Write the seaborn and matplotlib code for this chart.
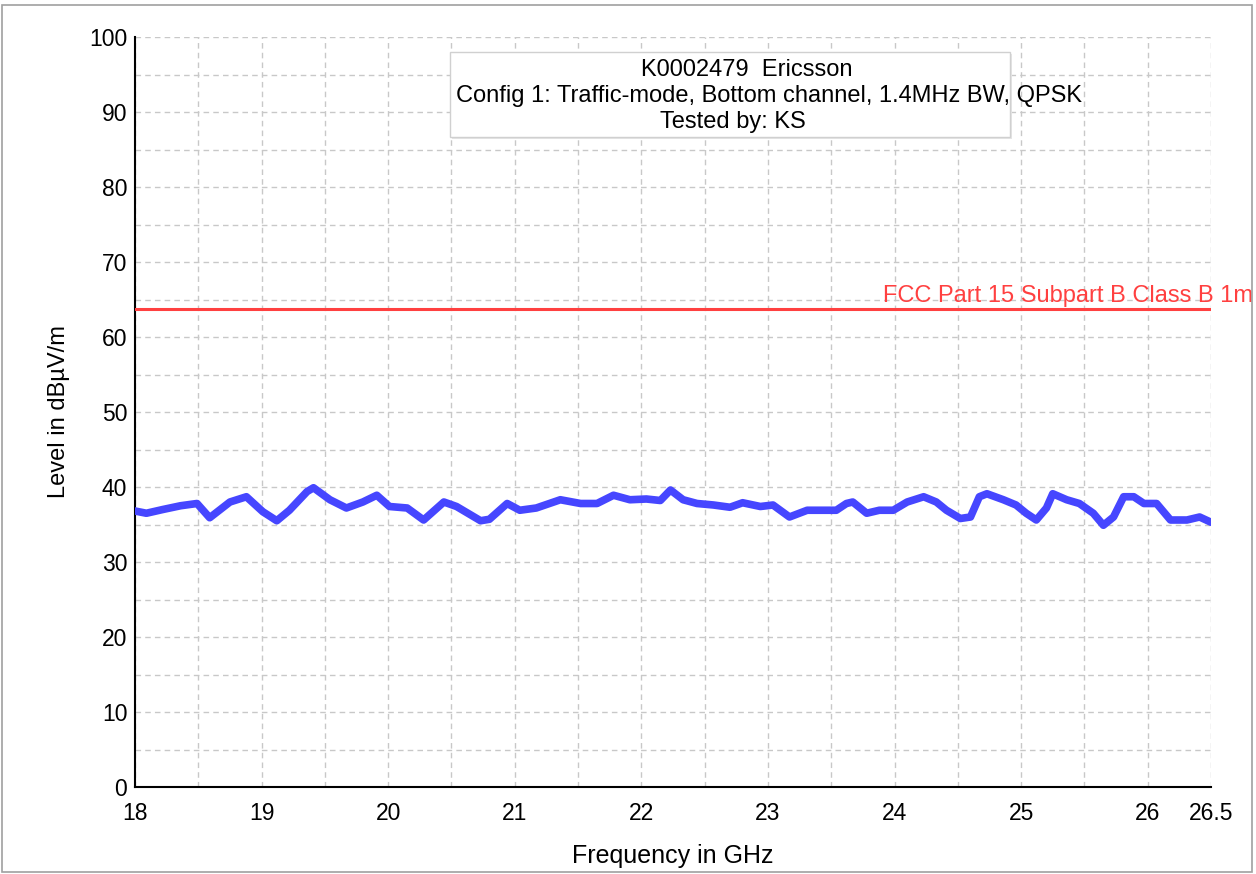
import numpy as np
import pandas as pd
import matplotlib
matplotlib.use("Agg")
import matplotlib.pyplot as plt
import seaborn as sns
from matplotlib.patches import Rectangle

# ---------------- data ----------------
freq_ghz = [18.00, 18.09, 18.22, 18.36, 18.49, 18.59, 18.75, 18.88, 19.01, 19.12,
            19.22, 19.36, 19.41, 19.54, 19.67, 19.80, 19.91, 20.01, 20.15, 20.28,
            20.44, 20.54, 20.73, 20.80, 20.94, 21.04, 21.17, 21.36, 21.52, 21.65,
            21.78, 21.91, 22.04, 22.15, 22.23, 22.33, 22.44, 22.57, 22.70, 22.80,
            22.94, 23.04, 23.17, 23.31, 23.44, 23.54, 23.62, 23.67, 23.78, 23.88,
            23.99, 24.10, 24.23, 24.33, 24.41, 24.52, 24.60, 24.67, 24.73, 24.86,
            24.96, 25.04, 25.12, 25.20, 25.25, 25.36, 25.46, 25.57, 25.65, 25.73,
            25.81, 25.89, 25.97, 26.07, 26.18, 26.31, 26.41, 26.50]
level_dbuv = [36.8, 36.5, 37.0, 37.5, 37.8, 35.9, 38.0, 38.7, 36.7, 35.5,
              36.9, 39.4, 39.9, 38.3, 37.2, 38.0, 38.9, 37.4, 37.2, 35.6,
              38.0, 37.4, 35.5, 35.7, 37.8, 36.9, 37.2, 38.3, 37.8, 37.8,
              38.9, 38.3, 38.4, 38.2, 39.6, 38.3, 37.8, 37.6, 37.3, 37.9,
              37.4, 37.6, 36.0, 36.9, 36.9, 36.9, 37.8, 38.0, 36.5, 36.9,
              36.9, 38.0, 38.7, 38.0, 36.9, 35.8, 36.0, 38.7, 39.1, 38.3,
              37.6, 36.5, 35.6, 37.2, 39.1, 38.3, 37.8, 36.5, 34.9, 36.0,
              38.7, 38.7, 37.8, 37.8, 35.6, 35.6, 36.0, 35.3]

limit_freq = [18.0, 26.5]
limit_level = [63.8, 63.8]
limit_name = "FCC Part 15 Subpart B Class B 1m"

x_major = [18, 18.5, 19, 19.5, 20, 20.5, 21, 21.5, 22, 22.5, 23, 23.5, 24, 24.5,
           25, 25.5, 26, 26.5]
x_labels = ["18", "", "19", "", "20", "", "21", "", "22", "", "23", "", "24", "",
            "25", "", "26", "26.5"]
y_ticks = [0, 5, 10, 15, 20, 25, 30, 35, 40, 45, 50, 55, 60, 65, 70, 75, 80, 85, 90, 95, 100]
y_labels = ["0", "", "10", "", "20", "", "30", "", "40", "", "50", "", "60", "",
            "70", "", "80", "", "90", "", "100"]

title_lines = ["K0002479  Ericsson",
               "Config 1: Traffic-mode, Bottom channel, 1.4MHz BW, QPSK",
               "Tested by: KS"]

# ---------------- style ----------------
sns.set_style("white")
plt.rcParams["font.family"] = ["Liberation Sans", "DejaVu Sans"]
plt.rcParams["text.color"] = "black"
plt.rcParams["axes.labelcolor"] = "black"

W, H = 1256, 874
fig = plt.figure(figsize=(W / 100, H / 100), dpi=100)
ax = fig.add_axes([135 / W, 1 - 787 / H, (1211 - 135) / W, (787 - 37) / H])

trace = pd.DataFrame({"f": freq_ghz, "lvl": level_dbuv})
limit = pd.DataFrame({"f": limit_freq, "lvl": limit_level})

sns.lineplot(data=trace, x="f", y="lvl", ax=ax, color="#4646ff", lw=5.5,
             zorder=3)
sns.lineplot(data=limit, x="f", y="lvl", ax=ax, color="#ff4040", lw=2.2, zorder=3)

ax.set_xlim(18, 26.5)
ax.set_ylim(0, 100)
ax.set_xticks(x_major)
ax.set_xticklabels(x_labels)
ax.set_yticks(y_ticks)
ax.set_yticklabels(y_labels)
ax.grid(True, color="#c8c8c8", linestyle=(0, (4, 3)), linewidth=1.0)
ax.tick_params(axis="both", direction="inout", length=11, width=1.2, color="black",
               labelsize=16.5, labelcolor="black", pad=0)
ax.tick_params(axis="x", pad=5)
for s in ["top", "right"]:
    ax.spines[s].set_visible(False)
for s in ["left", "bottom"]:
    ax.spines[s].set_color("black")
    ax.spines[s].set_linewidth(1.5)

ax.set_xlabel("Frequency in GHz", fontsize=18, labelpad=14)
ax.set_ylabel("Level in dBµV/m", fontsize=17, labelpad=14)

# limit label
fig.text(1253 / W, 1 - 307 / H, limit_name, color="#ff4040", fontsize=17,
         ha="right", va="bottom")

# title box
fig.patches.append(Rectangle((452 / W, 1 - 139 / H), (1012 - 452) / W, (139 - 54) / H,
                             transform=fig.transFigure, facecolor="#e6e6e6",
                             edgecolor="none", zorder=4))
fig.patches.append(Rectangle((450 / W, 1 - 137 / H), (1010 - 450) / W, (137 - 52) / H,
                             transform=fig.transFigure, facecolor="white",
                             edgecolor="#d0d0d0", lw=1, zorder=5))
centers = [(747, 70), (769, 96), (733, 122)]
for t, (cx, cy) in zip(title_lines, centers):
    fig.text(cx / W, 1 - cy / H, t, fontsize=17, ha="center", va="center",
             color="black", zorder=6)

# figure border
fig.patches.append(Rectangle((2 / W, 2 / H), (1252 - 2) / W, (869 - 2) / H,
                             transform=fig.transFigure, facecolor="none",
                             edgecolor="#a0a0a0", lw=1.2, zorder=10))

fig.savefig("out.png", dpi=100)
